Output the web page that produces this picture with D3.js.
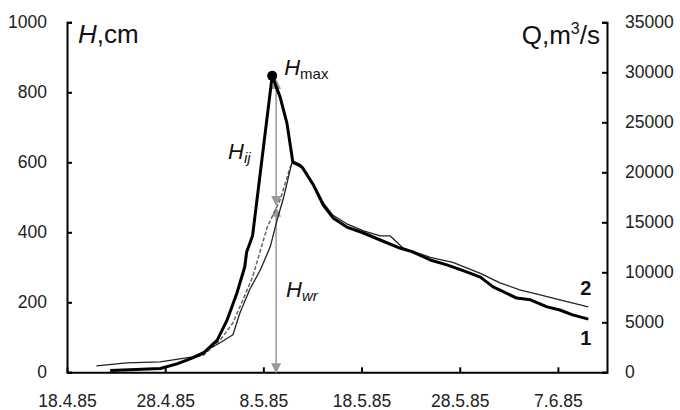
<!DOCTYPE html>
<html>
<head>
<meta charset="utf-8">
<script src="https://cdn.jsdelivr.net/npm/d3@7"></script>
<style>
  body { margin: 0; background: #fff; }
  svg { display: block; font-family: "Liberation Sans", Arial, sans-serif; }
</style>
</head>
<body>
<svg id="chart"></svg>
<script>
// days counted from 18.4.85
const tickDays = [0, 10, 20, 30, 40, 50];
const dateTicks = ["18.4.85", "28.4.85", "8.5.85", "18.5.85", "28.5.85", "7.6.85"];
const hTicks = [0, 200, 400, 600, 800, 1000];
const qTicks = [0, 5000, 10000, 15000, 20000, 25000, 30000, 35000];

// curve 1 - water level H, cm
const hDays = [4.4, 6.4, 9.5, 11.2, 12.8, 13.9, 15.3, 16.3, 17.3, 18.1, 18.3, 18.9, 20.9, 21.7, 22.4, 23.0, 23.7, 24.0,
  25.1, 26.1, 27.1, 28.5, 30.2, 31.9, 33.9, 35.2, 37.0, 38.7, 40.7, 42.1, 43.4, 45.8, 47.2, 48.9, 50.2, 51.5, 53.1];
const hValues = [5, 7, 11, 24, 41, 55, 92, 149, 226, 301, 344, 390, 847, 787, 712, 601, 592, 584,
  535, 478, 441, 415, 398, 378, 355, 344, 321, 307, 287, 272, 244, 212, 207, 187, 178, 164, 152];

// curve 2 - discharge Q, m3/s
const qDays = [3.0, 6.1, 9.5, 12.8, 14.3, 15.6, 16.9, 17.6, 18.6, 19.7, 20.7, 21.4, 22.0, 22.9, 24.0, 25.1,
  26.1, 27.1, 28.5, 30.2, 31.9, 32.9, 34.2, 37.0, 39.3, 42.1, 44.1, 46.1, 48.2, 50.2, 53.1];
const qValues = [650, 950, 1050, 1550, 2250, 2950, 3750, 5900, 8250, 10250, 12550, 15250, 17250, 20950, 20450, 18850,
  16950, 15700, 14850, 14150, 13650, 13650, 12450, 11500, 11000, 9900, 8950, 8250, 7750, 7250, 6550];

// dashed rising limb, cm
const wrDays = [13.2, 13.9, 15.6, 16.9, 17.9, 18.9, 20.4, 21.7, 22.8];
const wrValues = [45, 49, 92, 141, 206, 272, 415, 492, 592];

// annotation arrows (day, cm)
const arrowDay = 21.3;
const hijTop = 835, hijBottom = 478;
const hwrTop = 470;

const width = 680, height = 410;
const svg = d3.select("#chart").attr("width", width).attr("height", height);

const x = d3.scaleLinear().domain([0, 55]).range([67, 607]);
const yH = d3.scaleLinear().domain([0, 1000]).range([372.3, 22.3]);
const yQ = d3.scaleLinear().domain([0, 35000]).range([372.3, 22.3]);

const ink = "#111";

// axes
const styleAxis = g => {
  g.select(".domain").attr("stroke", "#000").attr("stroke-width", 2);
  g.selectAll(".tick line").attr("stroke", "#000").attr("stroke-width", 2);
  g.selectAll(".tick text").attr("fill", "#222").style("font-size", "17.5px")
    .style("font-family", "'Liberation Sans', Arial, sans-serif");
};

svg.append("g")
  .attr("transform", `translate(0,${yH(0)})`)
  .call(d3.axisBottom(x).tickValues(tickDays).tickFormat((d, i) => dateTicks[i])
    .tickSizeInner(-5).tickSizeOuter(0).tickPadding(22))
  .call(styleAxis);

svg.append("g")
  .attr("transform", `translate(${x(0)},0)`)
  .call(d3.axisLeft(yH).tickValues(hTicks).tickFormat(d3.format("d"))
    .tickSizeInner(-5).tickSizeOuter(-5).tickPadding(20))
  .call(styleAxis);

svg.append("g")
  .attr("transform", `translate(${x(55)},0)`)
  .call(d3.axisRight(yQ).tickValues(qTicks).tickFormat(d3.format("d"))
    .tickSizeInner(-5).tickSizeOuter(-5).tickPadding(18))
  .call(styleAxis);

// arrows
const defs = svg.append("defs");
defs.append("marker")
  .attr("id", "head")
  .attr("viewBox", "0 0 10 10")
  .attr("refX", 9).attr("refY", 5)
  .attr("markerUnits", "userSpaceOnUse")
  .attr("markerWidth", 10).attr("markerHeight", 10)
  .attr("orient", "auto-start-reverse")
  .append("path").attr("d", "M0,0L10,5L0,10Z").attr("fill", "#999");

const arrows = [[hijTop, hijBottom], [0, hwrTop]];
svg.selectAll(".arrow")
  .data(arrows)
  .enter().append("line")
  .attr("class", "arrow")
  .attr("x1", x(arrowDay)).attr("x2", x(arrowDay))
  .attr("y1", d => yH(d[0])).attr("y2", d => yH(d[1]))
  .attr("stroke", "#999").attr("stroke-width", 1.5)
  .attr("marker-start", "url(#head)")
  .attr("marker-end", "url(#head)");

// lines
const lineH = d3.line().x((d, i) => x(hDays[i])).y(d => yH(d));
const lineQ = d3.line().x((d, i) => x(qDays[i])).y(d => yQ(d));
const lineWr = d3.line().x((d, i) => x(wrDays[i])).y(d => yH(d));

svg.append("path")
  .attr("d", lineWr(wrValues))
  .attr("fill", "none").attr("stroke", "#666").attr("stroke-width", 1.5)
  .attr("stroke-dasharray", "4 2");

svg.append("path")
  .attr("d", lineQ(qValues))
  .attr("fill", "none").attr("stroke", "#222").attr("stroke-width", 1.3)
  .attr("stroke-linejoin", "round");

svg.append("path")
  .attr("d", lineH(hValues))
  .attr("fill", "none").attr("stroke", "#000").attr("stroke-width", 3)
  .attr("stroke-linejoin", "round");

// Hmax point
const iMax = d3.maxIndex(hValues);
svg.append("circle")
  .attr("cx", x(hDays[iMax])).attr("cy", yH(hValues[iMax]))
  .attr("r", 5).attr("fill", "#000");

// labels
const hLabel = (px, py, sub, subItalic) => {
  const t = svg.append("text").attr("x", px).attr("y", py).attr("fill", ink);
  t.append("tspan").style("font-size", "22px").style("font-style", "italic").text("H");
  t.append("tspan").attr("dy", 4).style("font-size", "15px")
    .style("font-style", subItalic ? "italic" : "normal").text(sub);
};
hLabel(x(hDays[iMax]) + 12, yH(hValues[iMax]) - 1, "max", false);
hLabel(228, 159, "ij", true);
hLabel(286, 297, "wr", true);

const hTitle = svg.append("text").attr("x", 78).attr("y", 43).attr("fill", ink).style("font-size", "26px");
hTitle.append("tspan").style("font-style", "italic").text("H");
hTitle.append("tspan").text(",cm");

const qTitle = svg.append("text").attr("x", 600).attr("y", 44).attr("fill", ink)
  .attr("text-anchor", "end").style("font-size", "26px");
qTitle.append("tspan").text("Q,m");
qTitle.append("tspan").attr("dy", -10).style("font-size", "16px").text("3");
qTitle.append("tspan").attr("dy", 10).text("/s");

const endLabels = [["2", qValues[qValues.length - 1] / 35, -12], ["1", hValues[hValues.length - 1], 26]];
svg.selectAll(".end")
  .data(endLabels)
  .enter().append("text")
  .attr("class", "end")
  .attr("x", x(53.1) - 8)
  .attr("y", d => yH(d[1]) + d[2])
  .attr("fill", ink)
  .style("font-size", "20px").style("font-weight", "bold")
  .text(d => d[0]);
</script>
</body>
</html>
